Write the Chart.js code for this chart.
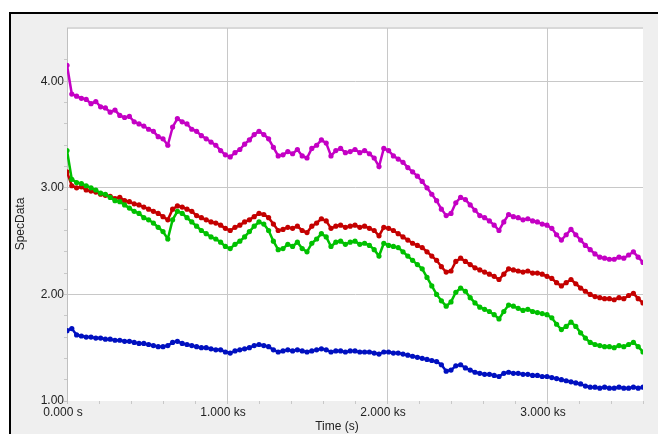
<!DOCTYPE html>
<html>
<head>
<meta charset="utf-8">
<title>SpecData</title>
<script src="https://cdn.jsdelivr.net/npm/chart.js"></script>
<style>
  body { margin: 0; background: #fff; }
  #frame {
    position: absolute; left: 9px; top: 12px;
    width: 647px; height: 420px;
    border-left: 2px solid #000; border-top: 2px solid #000;
    background: #efefef;
  }
</style>
</head>
<body>
<div id="frame"><canvas id="specChart"></canvas></div>
<script>
// sample times (s)
const times = [
  0, 30, 60, 90, 120, 150, 180, 210, 240, 270,
  300, 330, 360, 390, 420, 450, 480, 510, 540, 570,
  600, 630, 660, 690, 720, 750, 780, 810, 840, 870,
  900, 930, 960, 990, 1020, 1050, 1080, 1110, 1140, 1170,
  1200, 1230, 1260, 1290, 1320, 1350, 1380, 1410, 1440, 1470,
  1500, 1530, 1560, 1590, 1620, 1650, 1680, 1710, 1740, 1770,
  1800, 1830, 1860, 1890, 1920, 1950, 1980, 2010, 2040, 2070,
  2100, 2130, 2160, 2190, 2220, 2250, 2280, 2310, 2340, 2370,
  2400, 2430, 2460, 2490, 2520, 2550, 2580, 2610, 2640, 2670,
  2700, 2730, 2760, 2790, 2820, 2850, 2880, 2910, 2940, 2970,
  3000, 3030, 3060, 3090, 3120, 3150, 3180, 3210, 3240, 3270,
  3300, 3330, 3360, 3390, 3420, 3450, 3480, 3510, 3540, 3570,
  3600
];

const magentaVals = [
  4.15, 3.88, 3.86, 3.84, 3.83, 3.79, 3.81, 3.76, 3.75, 3.71,
  3.73, 3.68, 3.66, 3.67, 3.62, 3.60, 3.58, 3.55, 3.53, 3.48,
  3.46, 3.40, 3.57, 3.65, 3.62, 3.60, 3.55, 3.53, 3.49, 3.46,
  3.43, 3.40, 3.35, 3.31, 3.29, 3.33, 3.36, 3.41, 3.45, 3.50,
  3.53, 3.50, 3.46, 3.38, 3.30, 3.31, 3.34, 3.32, 3.36, 3.30,
  3.28, 3.37, 3.40, 3.45, 3.42, 3.30, 3.35, 3.37, 3.33, 3.34,
  3.36, 3.33, 3.35, 3.32, 3.28, 3.20, 3.37, 3.35, 3.30, 3.27,
  3.24, 3.19, 3.15, 3.11, 3.06, 3.00, 2.94, 2.88, 2.80, 2.74,
  2.76, 2.86, 2.91, 2.89, 2.84, 2.79, 2.74, 2.72, 2.69, 2.65,
  2.60, 2.68, 2.75, 2.73, 2.72, 2.70, 2.71, 2.69, 2.68, 2.66,
  2.65, 2.62, 2.56, 2.51, 2.56, 2.61, 2.56, 2.51, 2.46, 2.42,
  2.38, 2.35, 2.34, 2.33, 2.33, 2.35, 2.34, 2.37, 2.40, 2.35,
  2.30
];

const redVals = [
  3.15, 3.02, 3.00, 3.01, 2.98, 2.97, 2.96, 2.94, 2.93, 2.92,
  2.90, 2.91, 2.88, 2.87, 2.85, 2.84, 2.82, 2.80, 2.78, 2.76,
  2.73, 2.70, 2.80, 2.83, 2.82, 2.80, 2.78, 2.74, 2.72, 2.70,
  2.68, 2.67, 2.65, 2.62, 2.60, 2.63, 2.65, 2.68, 2.70, 2.73,
  2.76, 2.75, 2.72, 2.66, 2.60, 2.61, 2.63, 2.62, 2.64, 2.60,
  2.58, 2.64, 2.67, 2.71, 2.69, 2.62, 2.64, 2.65, 2.63, 2.64,
  2.65, 2.63, 2.64, 2.62, 2.60, 2.55, 2.63, 2.62, 2.60, 2.57,
  2.54, 2.51, 2.48, 2.46, 2.44, 2.40, 2.36, 2.32, 2.26, 2.21,
  2.22, 2.31, 2.34, 2.31, 2.28, 2.25, 2.23, 2.21, 2.19, 2.17,
  2.14, 2.19, 2.24, 2.23, 2.22, 2.21, 2.22, 2.20, 2.20, 2.19,
  2.17, 2.15, 2.11, 2.08, 2.11, 2.14, 2.10, 2.06, 2.03, 2.00,
  1.98, 1.97, 1.96, 1.96, 1.95, 1.97, 1.96, 1.99, 2.01, 1.96,
  1.92
];

const greenVals = [
  3.35, 3.08, 3.05, 3.04, 3.02, 3.00, 2.98, 2.95, 2.94, 2.91,
  2.88, 2.87, 2.84, 2.81, 2.78, 2.76, 2.72, 2.70, 2.67, 2.63,
  2.59, 2.52, 2.70, 2.78, 2.76, 2.72, 2.68, 2.64, 2.60, 2.57,
  2.54, 2.52, 2.49, 2.45, 2.43, 2.47, 2.50, 2.54, 2.59, 2.64,
  2.68, 2.66, 2.60, 2.50, 2.42, 2.43, 2.47, 2.45, 2.49, 2.43,
  2.40, 2.48, 2.52, 2.57, 2.54, 2.45, 2.49, 2.50, 2.47, 2.49,
  2.50, 2.47, 2.48, 2.46, 2.42, 2.36, 2.48, 2.46, 2.45, 2.44,
  2.40, 2.36, 2.32, 2.28, 2.24, 2.16, 2.08, 2.00, 1.94, 1.89,
  1.93, 2.02, 2.06, 2.03, 1.97, 1.92, 1.88, 1.86, 1.84, 1.81,
  1.77, 1.84, 1.90, 1.89, 1.87, 1.85, 1.86, 1.84, 1.83, 1.82,
  1.81, 1.78, 1.72, 1.67, 1.70, 1.74, 1.70, 1.64, 1.59, 1.55,
  1.53, 1.52, 1.51, 1.51, 1.50, 1.52, 1.51, 1.53, 1.55, 1.51,
  1.46
];

const blueVals = [
  1.66, 1.68, 1.62, 1.61, 1.60, 1.60, 1.59, 1.59, 1.58, 1.58,
  1.57, 1.57, 1.56, 1.56, 1.55, 1.54, 1.54, 1.53, 1.52, 1.51,
  1.51, 1.52, 1.55, 1.56, 1.54, 1.53, 1.52, 1.51, 1.50, 1.50,
  1.49, 1.48, 1.48, 1.46, 1.45, 1.47, 1.48, 1.49, 1.50, 1.52,
  1.53, 1.52, 1.51, 1.48, 1.46, 1.47, 1.48, 1.47, 1.48, 1.47,
  1.46, 1.47, 1.48, 1.49, 1.48, 1.46, 1.47, 1.47, 1.46, 1.47,
  1.47, 1.46, 1.46, 1.46, 1.45, 1.44, 1.46, 1.46, 1.45, 1.45,
  1.44, 1.43, 1.42, 1.41, 1.40, 1.39, 1.38, 1.37, 1.34, 1.28,
  1.29, 1.33, 1.34, 1.31, 1.29, 1.27, 1.26, 1.25, 1.25, 1.24,
  1.23, 1.26, 1.27, 1.26, 1.26, 1.25, 1.25, 1.24, 1.24, 1.23,
  1.23, 1.22, 1.21, 1.20, 1.19, 1.18, 1.17, 1.16, 1.14, 1.13,
  1.13, 1.12, 1.13, 1.12, 1.12, 1.13, 1.12, 1.12, 1.13, 1.12,
  1.13
];

const xMajor = [0, 1000, 2000, 3000];
const xLabels = ['0.000 s', '1.000 ks', '2.000 ks', '3.000 ks'];
const yMajor = [1, 2, 3, 4];
const yLabels = ['1.00', '2.00', '3.00', '4.00'];

function pts(vals) {
  return times.map((t, i) => ({ x: t, y: vals[i] }));
}

function series(vals, color) {
  return {
    data: pts(vals),
    borderColor: color,
    backgroundColor: color,
    borderWidth: 2.5,
    pointRadius: 2.6,
    pointBorderWidth: 0,
    tension: 0
  };
}

const isMajor = (list, v) => list.some(m => Math.abs(m - v) < 1e-6);

// white plot area, top edge and the two axis titles
const plotDecor = {
  id: 'plotDecor',
  beforeDraw(chart) {
    const { ctx, chartArea: a } = chart;
    ctx.save();
    ctx.fillStyle = '#ffffff';
    ctx.fillRect(a.left, a.top, a.right - a.left, a.bottom - a.top);
    ctx.fillStyle = '#d8d8d8';
    ctx.fillRect(a.left, a.top - 1, a.right - a.left, 2);
    ctx.restore();
  },
  afterDraw(chart) {
    const ctx = chart.ctx;
    ctx.save();
    ctx.fillStyle = '#222';
    ctx.font = '12px "Liberation Sans", Arial, sans-serif';
    ctx.textAlign = 'center';
    ctx.textBaseline = 'middle';
    ctx.fillText('Time (s)', 326, 413);
    ctx.translate(9.5, 210);
    ctx.rotate(-Math.PI / 2);
    ctx.fillText('SpecData', 0, 0);
    ctx.restore();
  }
};

new Chart(document.getElementById('specChart'), {
  type: 'line',
  data: {
    datasets: [
      series(magentaVals, '#c400c4'),
      series(greenVals, '#00c000'),
      series(redVals, '#c40000'),
      series(blueVals, '#0010c0')
    ]
  },
  options: {
    responsive: true,
    maintainAspectRatio: false,
    animation: false,
    layout: { padding: { left: 0, top: 14, right: 15, bottom: 0 } },
    plugins: { legend: { display: false }, tooltip: { enabled: false } },
    scales: {
      x: {
        type: 'linear',
        min: 0,
        max: 3600,
        afterFit: s => { s.height = 33; },
        border: { display: false },
        grid: {
          color: c => (c.tick.value > 0 && isMajor(xMajor, c.tick.value)) ? '#c8c8c8' : 'rgba(0,0,0,0)',
          tickColor: '#c8c8c8',
          tickLength: 3
        },
        ticks: {
          stepSize: 200,
          autoSkip: false,
          maxRotation: 0,
          padding: 1,
          labelOffset: -4,
          color: '#222',
          font: { family: '"Liberation Sans", Arial, sans-serif', size: 12 },
          callback: v => {
            const k = xMajor.findIndex(m => Math.abs(m - v) < 1e-6);
            return k >= 0 ? xLabels[k] : '';
          }
        }
      },
      y: {
        min: 1,
        max: 4.5,
        afterFit: s => { s.width = 56; },
        border: { display: true, color: '#c0c0c0' },
        grid: {
          color: c => (c.tick.value > 1.01 && isMajor(yMajor, c.tick.value)) ? '#c8c8c8' : 'rgba(0,0,0,0)',
          tickColor: c => c.tick.value > 4.45 ? 'rgba(0,0,0,0)' : '#c8c8c8',
          tickLength: 3
        },
        ticks: {
          stepSize: 0.2,
          autoSkip: false,
          padding: 0,
          color: '#222',
          font: { family: '"Liberation Sans", Arial, sans-serif', size: 12 },
          callback: v => {
            const k = yMajor.findIndex(m => Math.abs(m - v) < 1e-6);
            return k >= 0 ? yLabels[k] : '';
          }
        }
      }
    }
  },
  plugins: [plotDecor]
});
</script>
</body>
</html>
